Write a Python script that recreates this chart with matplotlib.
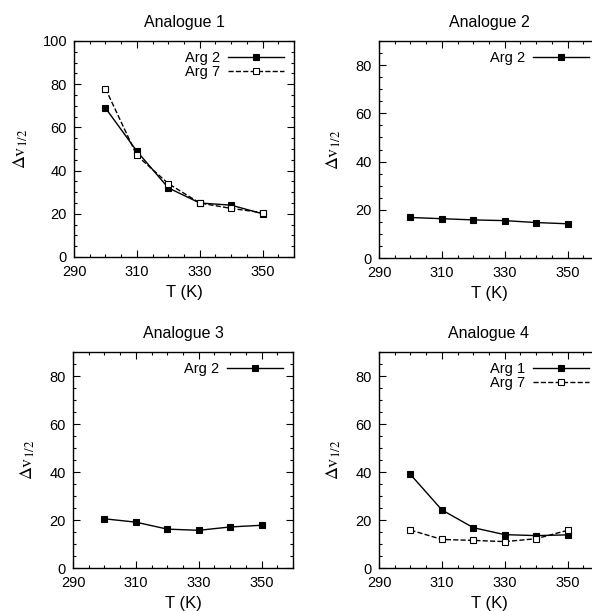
import matplotlib
matplotlib.use("Agg")
import matplotlib.pyplot as plt
from matplotlib.ticker import MultipleLocator, FixedLocator

plt.rcParams['font.family'] = ['Liberation Sans', 'DejaVu Sans']
plt.rcParams['mathtext.fontset'] = 'stix'

T = [300, 310, 320, 330, 340, 350]
xticks = [290, 310, 330, 350]

# Analogue 1
a1_arg2 = [69, 49, 32, 25, 24, 20]
a1_arg7 = [78, 47, 34, 25, 22.5, 20.5]
# Analogue 2
a2_arg2 = [16.8, 16.3, 15.8, 15.5, 14.7, 14.2]
# Analogue 3
a3_arg2 = [20.5, 19.1, 16.2, 15.7, 17.1, 17.8]
# Analogue 4
a4_arg1 = [39, 24.2, 16.8, 13.9, 13.5, 13.8]
a4_arg7 = [15.8, 11.9, 11.5, 11.0, 12.2, 15.7]

titles = ["Analogue 1", "Analogue 2", "Analogue 3", "Analogue 4"]
ymax = [100, 90, 90, 90]

W, H = 592, 611
fig = plt.figure(figsize=(W / 100, H / 100), dpi=100)

# axes boxes in pixels: left, top, right, bottom
boxes = [(74, 41, 294, 257), (379, 41, 599, 258),
         (73, 352, 293, 568), (379, 352, 599, 568)]
axes = []
for (l, t, r, b) in boxes:
    ax = fig.add_axes([l / W, 1 - b / H, (r - l) / W, (b - t) / H])
    axes.append(ax)

series = [
    [("Arg 2", a1_arg2, 'black', '-'), ("Arg 7", a1_arg7, 'white', '--')],
    [("Arg 2", a2_arg2, 'black', '-')],
    [("Arg 2", a3_arg2, 'black', '-')],
    [("Arg 1", a4_arg1, 'black', '-'), ("Arg 7", a4_arg7, 'white', '--')],
]

for ax, title, ym, ss in zip(axes, titles, ymax, series):
    for label, vals, fc, ls in ss:
        ax.plot(T, vals, ls, color='black', lw=1.0, marker='s', ms=5,
                mfc=fc, mec='black', mew=0.8, label=label)
    ax.set_xlim(290, 360)
    ax.set_ylim(0, ym)
    ax.xaxis.set_major_locator(FixedLocator(xticks))
    ax.xaxis.set_minor_locator(MultipleLocator(5))
    ax.yaxis.set_major_locator(MultipleLocator(20))
    ax.yaxis.set_minor_locator(MultipleLocator(5))
    ax.tick_params(which='both', direction='in', top=True, right=True,
                   labelsize=10.5, width=0.8)
    ax.tick_params(which='major', length=5)
    ax.tick_params(axis='x', which='major', pad=6)
    ax.tick_params(axis='y', which='major', pad=5)
    ax.tick_params(which='minor', length=2.5)
    for sp in ax.spines.values():
        sp.set_linewidth(1.0)
    ax.set_title(title, fontsize=11.5, pad=10)
    ax.set_xlabel("T (K)", fontsize=12, labelpad=4)
    ax.set_ylabel(r"$\Delta\mathrm{v}_{1/2}$", fontsize=13, labelpad=9)
    ax.legend(loc='upper right', frameon=False, markerfirst=False,
              handlelength=3.8, labelspacing=0.0,
              borderaxespad=0.3, handletextpad=0.6,
              prop={'size': 10.5})

fig.savefig("out.png", dpi=100)
